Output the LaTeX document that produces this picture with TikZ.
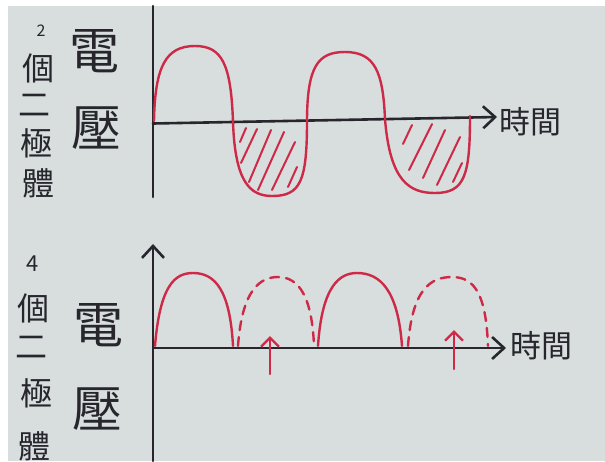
\documentclass[tikz,border=0pt]{standalone}
\usepackage{fontspec}
\newfontfamily\cjk{Noto Sans CJK TC}
\usepackage{xcolor}
\usepackage{tikz}
\usetikzlibrary{arrows.meta}

\begin{document}
\begin{tikzpicture}[x=1pt,y=-1pt,>={Straight Barb[length=12pt,width=22pt]}]
\definecolor{paper}{RGB}{216,221,222}
\definecolor{ink}{RGB}{38,38,44}
\definecolor{pen}{RGB}{206,42,72}
\tikzset{
  axis/.style={ink,line width=2.6pt,line cap=round},
  wave/.style={pen,line width=2.4pt,line cap=round},
  ghost/.style={wave,dash pattern=on 9pt off 7pt},
  hatch/.style={pen,line width=2pt,line cap=round},
  col/.style={ink,font=\cjk\fontsize{32}{32}\selectfont,inner sep=0pt},
  digit/.style={ink,font=\cjk\fontsize{22}{22}\selectfont,inner sep=0pt},
  big/.style={ink,font=\cjk\fontsize{50}{50}\selectfont,inner sep=0pt},
  tlab/.style={ink,font=\cjk\fontsize{31}{31}\selectfont,inner sep=0pt,anchor=west},
}
\useasboundingbox (0,0) rectangle (605,461);
\fill[white] (0,0) rectangle (605,461);
\fill[paper] (8,6) rectangle (605,461);
% two diodes
\node[digit,font=\cjk\fontsize{16}{16}\selectfont] (n2) at (41,31) {2};
\node[col] (ge1) at (38,68) {個};
\node[col] (er1) at (35,105) {二};
\node[col] (ji1) at (36,143) {極};
\node[col] (ti1) at (38,183) {體};
\node[big] (dian1) at (94,51) {電};
\node[big] (ya1) at (96,128) {壓};
\coordinate (o1) at (153,123.5);
\coordinate (ytop1) at (153,6);
\coordinate (ybot1) at (153,197);
\coordinate (xend1) at (497,117);
\draw[axis] (ytop1) -- (ybot1);
\draw[axis,->] (o1) -- (xend1);
\node[tlab] (time1) at (499,122) {時間};
\draw[wave] (154,121) .. controls (155,66) and (166,46) .. (195,46)
  .. controls (222,46) and (231,64) .. (233,122)
  .. controls (235,182) and (250,196) .. (272,196)
  .. controls (300,196) and (307,182) .. (307,122)
  .. controls (307,66) and (318,52) .. (345,52)
  .. controls (375,52) and (383,72) .. (385,119)
  .. controls (390,182) and (410,193) .. (435,193)
  .. controls (465,193) and (470,175) .. (470,116);
\draw[hatch] (240,142) -- (246,128);
\draw[hatch] (241,163) -- (257,129);
\draw[hatch] (249,182) -- (271,130);
\draw[hatch] (258,190) -- (284,132);
\draw[hatch] (272,190) -- (295,142);
\draw[hatch] (288,187) -- (297,167);
\draw[hatch] (403,144) -- (412,125);
\draw[hatch] (409,170) -- (432,124);
\draw[hatch] (423,178) -- (445,130);
\draw[hatch] (437,185) -- (460,137);
\draw[hatch] (453,182) -- (462,163);
% four diodes
\node[digit] (n4) at (33,264) {4};
\node[col] (ge2) at (33,308) {個};
\node[col] (er2) at (32,347) {二};
\node[col] (ji2) at (36,393) {極};
\node[col] (ti2) at (35,446) {體};
\node[big] (dian2) at (98,325) {電};
\node[big] (ya2) at (97,409) {壓};
\coordinate (o2) at (153,348);
\coordinate (ytop2) at (153,244);
\coordinate (ybot2) at (153,461);
\coordinate (xend2) at (506,348);
\draw[axis,->] (ybot2) -- (ytop2);
\draw[axis,->] (o2) -- (xend2);
\node[tlab] (time2) at (510,346) {時間};
\draw[wave] (155,346) .. controls (160,285) and (175,273) .. (193,273)
  .. controls (215,273) and (230,290) .. (233,346);
\draw[ghost] (238,346) .. controls (242,290) and (260,277) .. (278,277)
  .. controls (298,277) and (312,295) .. (314,346);
\draw[wave] (318,346) .. controls (322,285) and (340,273) .. (357,273)
  .. controls (380,273) and (398,290) .. (402,346);
\draw[ghost] (408,346) .. controls (412,290) and (430,277) .. (452,277)
  .. controls (475,277) and (486,295) .. (488,346);
\coordinate (up1a) at (270,374);
\coordinate (up1b) at (270,336);
\coordinate (up2a) at (454,369);
\coordinate (up2b) at (454,330);
\draw[wave,->,>={Straight Barb[length=9pt,width=18pt]}] (up1a) -- (up1b);
\draw[wave,->,>={Straight Barb[length=9pt,width=18pt]}] (up2a) -- (up2b);
\end{tikzpicture}
\end{document}
